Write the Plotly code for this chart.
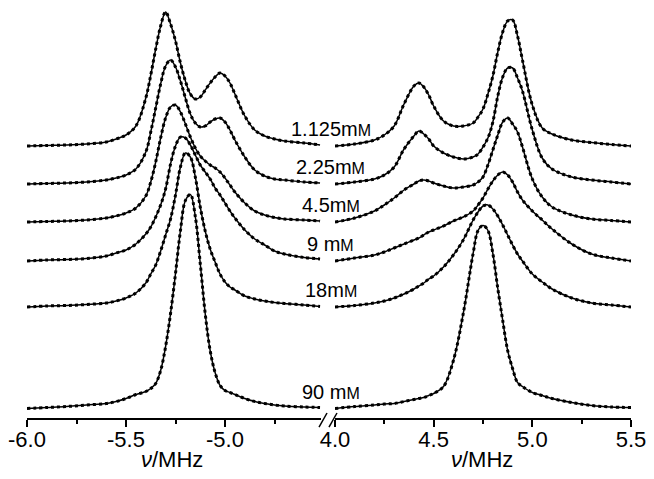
import plotly.graph_objects as go

# concentrations (mM) and the vertical stacking offset of each spectrum
labels = ["1.125mM", "2.25mM", "4.5mM", "9 mM", "18mM", "90 mM"]
offsets = [272, 234, 196, 157, 111, 9.5]

# negative-frequency branch (MHz)
freq_neg = [-6.0, -5.9, -5.8, -5.7, -5.6, -5.55, -5.5, -5.45, -5.4, -5.375, -5.35, -5.325,
            -5.3, -5.275, -5.25, -5.225, -5.2, -5.175, -5.15, -5.125, -5.1, -5.075, -5.05,
            -5.025, -5.0, -4.975, -4.95, -4.9, -4.85, -4.8, -4.75, -4.7, -4.6, -4.52]
neg_1125 = [0, 0.5, 1, 2, 4, 7, 11, 20, 48, 71, 97, 120, 134, 122, 105, 83, 65, 52, 47, 49,
            56, 63, 69, 73, 70, 63, 52, 30, 16, 10, 7, 5, 3, 1]
neg_225 = [0, 0.5, 1, 2, 4, 6, 9, 15, 32, 52, 76, 100, 118, 124, 117, 103, 86, 70, 61, 57,
           58, 62, 65, 66, 62, 54, 44, 27, 14, 8, 5, 4, 2, 1]
neg_45 = [0, 0.5, 1, 2, 4, 6, 9, 14, 26, 40, 60, 84, 104, 115, 117, 110, 98, 85, 74, 66,
          61, 57, 54, 50, 44, 37, 30, 19, 11, 7, 4.5, 3, 2, 1]
neg_9 = [0, 1, 1.5, 2.5, 5, 8, 11, 17, 27, 34, 44, 56, 72, 97, 115, 124, 123, 116, 106, 96,
         89, 82, 73, 66, 58, 50, 43, 31, 22, 16, 10, 7, 3.5, 2]
neg_18 = [0, 1, 1.5, 2.5, 4, 6, 9, 14, 24, 33, 42, 56, 72, 88, 112, 140, 154, 150, 130, 100,
          76, 58, 45, 33, 25, 20, 17, 11, 8, 6, 4.5, 3.5, 2, 0.5]
neg_90 = [0, 1, 2, 3.5, 5, 7, 10, 14, 17, 20, 25, 38, 62, 95, 135, 178, 208, 214, 192, 145,
          95, 58, 36, 23, 18, 16, 14, 10, 7, 5, 3.5, 2.5, 1.5, 1]

# positive-frequency branch (MHz)
freq_pos = [4.0, 4.1, 4.2, 4.25, 4.3, 4.35, 4.4, 4.425, 4.45, 4.475, 4.5, 4.55, 4.6, 4.65,
            4.7, 4.725, 4.75, 4.775, 4.8, 4.825, 4.85, 4.875, 4.9, 4.925, 4.95, 5.0, 5.05,
            5.1, 5.2, 5.3, 5.4, 5.5]
pos_1125 = [0, 2, 6, 11, 20, 42, 60, 63, 59, 51, 40, 25, 20, 20, 23, 29, 37, 52, 70, 94,
            114, 125, 126, 110, 86, 41, 18, 12, 6, 3.5, 1.5, 0]
pos_225 = [0, 2, 5, 9, 17, 35, 48, 53, 50, 45, 38, 31, 27, 25, 27, 30, 37, 46, 62, 88,
           107, 116, 116, 106, 93, 54, 26, 15, 7, 4, 2, 0]
pos_45 = [0, 4, 11, 17, 24, 32, 38, 41, 42, 41, 39, 36, 34, 35, 37, 40, 45, 57, 72, 87,
          100, 104, 98, 90, 75, 43, 25, 15, 7, 3, 1.5, 0]
pos_9 = [0, 3, 6, 9, 13, 17, 21, 23, 26, 29, 31, 35, 40, 44, 50, 56, 63, 72, 80, 86,
         89, 86, 79, 69, 61, 50, 41, 32, 17, 7, 3, 0]
pos_18 = [0, 1.5, 4, 6, 9, 13, 18, 21, 24, 28, 31, 40, 52, 67, 87, 95, 101, 102, 98, 91,
          82, 72, 62, 53, 46, 33, 25, 18, 9, 4, 2, 0]
pos_90 = [0, 2, 3.5, 4.5, 5, 7, 9, 10, 11, 13, 15, 22, 48, 95, 155, 178, 183, 178, 155, 120,
          88, 58, 40, 26, 22, 16, 13, 10, 6, 3, 1.5, 1]

neg_spectra = [neg_1125, neg_225, neg_45, neg_9, neg_18, neg_90]
pos_spectra = [pos_1125, pos_225, pos_45, pos_9, pos_18, pos_90]

ticks_neg = [-6.0, -5.5, -5.0]
ticks_neg_minor = [-5.75, -5.25, -4.75]
ticks_pos = [4.0, 4.5, 5.0, 5.5]
ticks_pos_minor = [4.25, 4.75, 5.25]

FONT = "Liberation Sans, Arial, sans-serif"

fig = go.Figure()
for off, neg, pos in zip(offsets, neg_spectra, pos_spectra):
    for xs, ys, ax in [(freq_neg, neg, "x"), (freq_pos, pos, "x2")]:
        yy = [v + off for v in ys]
        # measured points (dotted) and fit (solid)
        fig.add_trace(go.Scatter(x=xs, y=yy, xaxis=ax, yaxis="y", mode="lines",
                                 line=dict(color="black", width=3, dash="dot", shape="spline"),
                                 hoverinfo="skip"))
        fig.add_trace(go.Scatter(x=xs, y=yy, xaxis=ax, yaxis="y", mode="lines",
                                 line=dict(color="black", width=1.5, shape="spline")))

axis_common = dict(showline=True, linecolor="black", linewidth=1.5, ticks="outside",
                   ticklen=7, tickwidth=1.5, tickcolor="black", showgrid=False,
                   zeroline=False, tickfont=dict(family=FONT, size=22, color="black"),
                   ticklabeloverflow="allow", ticklabelstandoff=-6, anchor="y")
fig.update_layout(
    width=646, height=471,
    margin=dict(l=17, r=23, t=0, b=61),
    plot_bgcolor="white", paper_bgcolor="white",
    showlegend=False,
    xaxis=dict(domain=[0, 0.4868], range=[-6.0, -4.515],
               tickvals=ticks_neg, ticktext=["%.1f" % v for v in ticks_neg],
               minor=dict(tickvals=ticks_neg_minor, ticks="outside", ticklen=4,
                          tickwidth=1.5, tickcolor="black"),
               **axis_common),
    xaxis2=dict(domain=[0.5099, 1], range=[4.0, 5.5],
                tickvals=ticks_pos, ticktext=["%.1f" % v for v in ticks_pos],
                minor=dict(tickvals=ticks_pos_minor, ticks="outside", ticklen=4,
                           tickwidth=1.5, tickcolor="black"),
                **axis_common),
    yaxis=dict(range=[0, 410], visible=False),
)

# axis titles
for xc in [0.2393, 0.7541]:
    fig.add_annotation(x=xc, xref="paper", y=-0.1, yref="paper", text="<i>ν</i>/MHz",
                       showarrow=False, xanchor="center", yanchor="middle",
                       font=dict(family=FONT, size=22, color="black"))

for lab, off in zip(labels, offsets):
    num = lab[:-1]
    fig.add_annotation(x=0.5033, xref="paper", y=off + 17, yref="y",
                       text=num + "<span style='font-size:16px'>M</span>",
                       showarrow=False, xanchor="center", yanchor="middle",
                       font=dict(family=FONT, size=20, color="black"))

# axis break marks
for x0 in [0.4835, 0.5]:
    fig.add_shape(type="line", xref="paper", yref="paper",
                  x0=x0, y0=-0.022, x1=x0 + 0.0132, y1=0.0122,
                  line=dict(color="black", width=1.5))

fig.write_html("out.html")
